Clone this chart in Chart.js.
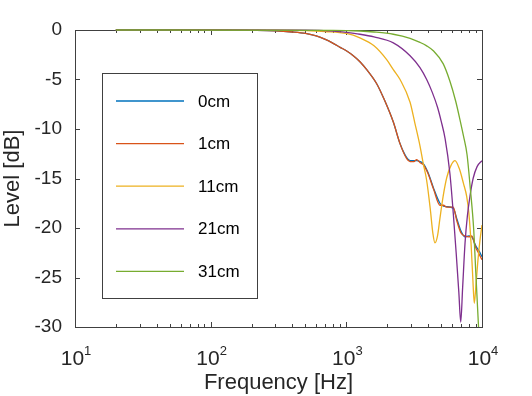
<!DOCTYPE html>
<html>
<head>
<meta charset="utf-8">
<script src="https://cdn.jsdelivr.net/npm/chart.js@4.4.0/dist/chart.umd.min.js"></script>
<style>
    html, body { margin: 0; padding: 0; background: #fff; }
    canvas { display: block; }
</style>
</head>
<body>
<canvas id="chart" width="532" height="396"></canvas>
<script>
// ============================================
// DATA
// ============================================
const seriesLabels = ['0cm', '1cm', '11cm', '21cm', '31cm'];
const seriesColors = ['#0072BD', '#D95319', '#EDB120', '#7E2F8E', '#77AC30'];

const freq0 = [20, 100, 200, 300, 400, 500, 600, 700, 800, 900, 1000, 1125, 1260, 1413, 1670, 1900, 2220, 2490, 2786, 2950, 3150, 3296, 3500, 3690, 4000, 4400, 4895, 5200, 5490, 6140, 6500, 7000, 7500, 8000, 8400, 9000, 9500, 10000];
const level0 = [0, 0, -0.03, -0.08, -0.2, -0.35, -0.6, -0.95, -1.35, -1.75, -2.1, -2.6, -3.2, -4.0, -5.4, -7.0, -9.3, -11.5, -12.9, -13.2, -13.2, -13.2, -13.3, -13.5, -14.4, -16.0, -17.5, -17.8, -17.85, -18.0, -19.0, -20.3, -20.9, -20.8, -20.9, -21.8, -22.3, -22.9];
const level1 = [0, 0, -0.03, -0.08, -0.2, -0.35, -0.6, -0.95, -1.35, -1.75, -2.1, -2.6, -3.2, -4.0, -5.4, -7.0, -9.3, -11.5, -13.0, -13.3, -13.3, -13.1, -13.4, -13.6, -14.5, -16.1, -17.7, -17.7, -17.9, -17.9, -19.2, -20.5, -20.8, -20.9, -20.8, -22.0, -22.6, -23.2];

const freq11 = [20, 300, 500, 700, 1000, 1260, 1600, 1983, 2220, 2489, 2950, 3200, 3490, 3690, 3910, 4150, 4350, 4500, 4700, 4900, 5170, 5500, 5900, 6325, 6800, 7300, 7710, 8000, 8300, 8550, 8770, 9000, 9300, 9650, 10000];
const level11 = [0, -0.02, -0.06, -0.15, -0.35, -0.8, -1.6, -3.0, -4.0, -5.0, -7.3, -9.4, -11.7, -13.5, -15.2, -18.0, -20.6, -21.5, -20.8, -19.0, -16.8, -14.9, -13.7, -13.2, -14.0, -15.5, -16.8, -18.5, -21.5, -25.0, -27.6, -26.0, -23.5, -21.3, -19.7];

const freq21 = [20, 500, 800, 1000, 1260, 1600, 2220, 2950, 3490, 3910, 4300, 4700, 5000, 5350, 5800, 6140, 6450, 6750, 6970, 7200, 7500, 7800, 8150, 8600, 9200, 10000];
const level21 = [0, -0.02, -0.12, -0.25, -0.43, -0.7, -1.3, -2.6, -3.8, -5.0, -6.3, -7.8, -9.2, -11.0, -14.5, -18.5, -22.5, -26.5, -29.5, -26.0, -21.5, -18.8, -16.8, -15.0, -13.8, -13.2];

const freq31 = [20, 800, 1260, 1600, 2220, 2950, 3490, 3910, 4375, 5170, 5810, 6400, 6890, 7300, 7760, 8200, 8690, 9000, 9430, 9700, 10000];
const level31 = [0, -0.03, -0.1, -0.2, -0.43, -0.84, -1.25, -1.6, -2.1, -3.4, -5.2, -7.2, -9.1, -10.7, -12.6, -16.0, -20.2, -24.5, -30.0, -33.0, -36.0];

const xTicks = [10, 100, 1000, 10000];
const xTickBase = '10';
const xTickExp = ['1', '2', '3', '4'];
const yTicks = [0, -5, -10, -15, -20, -25, -30];

const FONT = '"Liberation Sans", Arial, Helvetica, sans-serif';
const TEXT = '#262626';
const AXIS = '#404040';

function toPoints(xs, ys) {
    return xs.map((x, i) => ({ x: x, y: ys[i] }));
}

// ============================================
// PLUGINS
// ============================================
// box and inward ticks, drawn under the curves
const boxTicks = {
    id: 'boxTicks',
    beforeDatasetsDraw(chart) {
        const { ctx, chartArea: a, scales } = chart;
        ctx.save();
        ctx.strokeStyle = AXIS;
        ctx.lineWidth = 1;
        ctx.beginPath();
        yTicks.forEach(v => {
            const y = Math.round(scales.y.getPixelForValue(v)) + 0.5;
            ctx.moveTo(a.left, y); ctx.lineTo(a.left + 5, y);
            ctx.moveTo(a.right, y); ctx.lineTo(a.right - 5, y);
        });
        for (let d = 10; d < 10000; d *= 10) {
            for (let m = 1; m <= 9; m++) {
                const x = Math.round(scales.x.getPixelForValue(d * m)) + 0.5;
                const len = m === 1 ? 5 : 3;
                ctx.moveTo(x, a.bottom); ctx.lineTo(x, a.bottom - len);
                ctx.moveTo(x, a.top); ctx.lineTo(x, a.top + len);
            }
        }
        ctx.stroke();
        ctx.strokeRect(Math.round(a.left) + 0.5, Math.round(a.top) + 0.5,
            Math.round(a.right - a.left), Math.round(a.bottom - a.top));
        ctx.restore();
    }
};

// 10^n labels under the x axis
const expLabels = {
    id: 'expLabels',
    afterDraw(chart) {
        const { ctx, scales } = chart;
        ctx.save();
        ctx.fillStyle = TEXT;
        ctx.textBaseline = 'alphabetic';
        ctx.textAlign = 'left';
        xTicks.forEach((v, i) => {
            const x = scales.x.getPixelForValue(v);
            ctx.font = '21px ' + FONT;
            const wb = ctx.measureText(xTickBase).width;
            ctx.font = '13px ' + FONT;
            const we = ctx.measureText(xTickExp[i]).width;
            const x0 = x - (wb + we) / 2 + 1;
            ctx.font = '21px ' + FONT;
            ctx.fillText(xTickBase, x0, 365);
            ctx.font = '13px ' + FONT;
            ctx.fillText(xTickExp[i], x0 + wb, 354.5);
        });
        ctx.restore();
    }
};

const boxLegend = {
    id: 'boxLegend',
    afterDraw(chart) {
        const { ctx } = chart;
        const left = 102.5, top = 73.5, w = 155, h = 225;
        ctx.save();
        ctx.fillStyle = '#fff';
        ctx.fillRect(left, top, w, h);
        ctx.strokeStyle = AXIS;
        ctx.lineWidth = 1;
        ctx.strokeRect(left, top, w, h);
        ctx.font = '17px ' + FONT;
        ctx.textBaseline = 'middle';
        chart.data.datasets.forEach((ds, i) => {
            const y = 101 + i * 42.6;
            ctx.strokeStyle = ds.borderColor;
            ctx.lineWidth = ds.borderWidth;
            ctx.beginPath();
            ctx.moveTo(116, y);
            ctx.lineTo(184, y);
            ctx.stroke();
            ctx.fillStyle = '#000';
            ctx.fillText(ds.label, 198, y + 1);
        });
        ctx.restore();
    }
};

// ============================================
// CHART
// ============================================
const seriesData = [
    toPoints(freq0, level0),
    toPoints(freq0, level1),
    toPoints(freq11, level11),
    toPoints(freq21, level21),
    toPoints(freq31, level31)
];

new Chart(document.getElementById('chart'), {
    type: 'line',
    data: {
        datasets: seriesLabels.map((label, i) => ({
            label: label,
            data: seriesData[i],
            borderColor: seriesColors[i],
            borderWidth: 1.3,
            pointRadius: 0,
            order: seriesLabels.length - i,
            cubicInterpolationMode: 'monotone',
            fill: false,
            clip: { left: 0, top: 3, right: 0, bottom: 0 }
        }))
    },
    options: {
        responsive: false,
        animation: false,
        devicePixelRatio: 1,
        layout: { padding: { top: 30, right: 50, left: 0, bottom: 0 } },
        plugins: {
            legend: { display: false },
            tooltip: { enabled: false }
        },
        scales: {
            x: {
                type: 'logarithmic',
                min: 10,
                max: 10000,
                afterBuildTicks: (s) => { s.ticks = xTicks.map(v => ({ value: v })); },
                afterFit: (s) => { s.height = 69; },
                ticks: { display: false },
                grid: { display: false, drawTicks: false },
                border: { display: false },
                title: {
                    display: true,
                    text: 'Frequency [Hz]',
                    color: TEXT,
                    font: { family: FONT, size: 22 },
                    padding: { top: 0, bottom: 0 }
                }
            },
            y: {
                min: -30,
                max: 0,
                afterBuildTicks: (s) => { s.ticks = yTicks.map(v => ({ value: v })); },
                afterFit: (s) => { s.width = 75; },
                ticks: {
                    padding: 13,
                    color: TEXT,
                    font: { family: FONT, size: 19 }
                },
                grid: { display: false, drawTicks: false },
                border: { display: false },
                title: {
                    display: true,
                    text: 'Level [dB]',
                    color: TEXT,
                    font: { family: FONT, size: 22 },
                    padding: { top: 0, bottom: 0 }
                }
            }
        }
    },
    plugins: [boxTicks, expLabels, boxLegend]
});
</script>
</body>
</html>
